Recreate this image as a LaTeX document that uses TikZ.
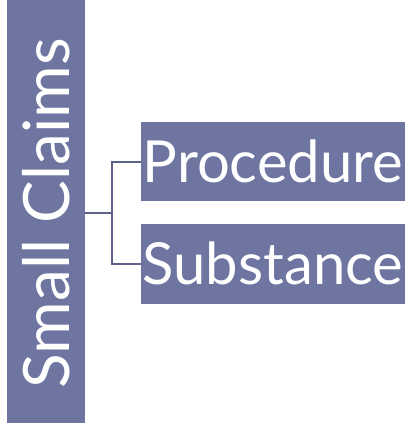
\documentclass[tikz,border=0pt]{standalone}
\usepackage{fontspec}
\setmainfont{Lato}
\usepackage{tikz}
\usetikzlibrary{calc}
\usetikzlibrary{positioning}
\definecolor{slate}{HTML}{6D75A0}

\begin{document}
\begin{tikzpicture}[x=1pt, y=1pt,
    box/.style={fill=slate, text=white, inner sep=0pt},
    link/.style={draw=slate!85!black, line width=2pt}]

    \useasboundingbox (0, 0) rectangle (409, -423);

    \node [box, rotate=90, minimum width=426pt, minimum height=78pt,
      font=\fontsize{64}{64}\selectfont] (claims) at (46, -213) {Small Claims};

    \node [box, minimum width=264pt, minimum height=79pt,
      font=\fontsize{58}{58}\selectfont] (proc) at (273, -161.5) {Procedure};
    \node [box, minimum width=264pt, minimum height=80pt,
      font=\fontsize{58}{58}\selectfont] (subst) at (273, -263.5) {Substance};

    \coordinate (fork) at (112, -213);

    \draw [link] (claims.south |- fork) -- (fork);
    \draw [link] (proc.west) -| (fork) |- (subst.west);

  \end{tikzpicture}
\end{document}
